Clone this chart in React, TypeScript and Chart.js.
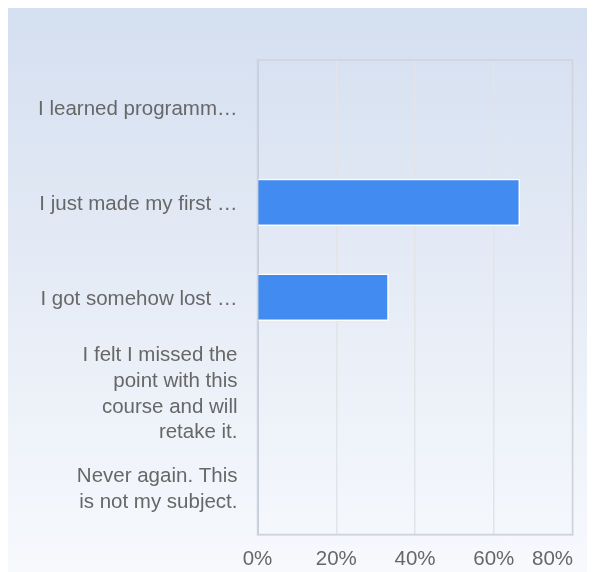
import React, { useEffect, useRef } from "react";
import { Chart, registerables } from "chart.js";

Chart.register(...registerables);

const categories: (string | string[])[] = [
  "I learned programm…",
  "I just made my first …",
  "I got somehow lost …",
  ["I felt I missed the", "point with this", "course and will", "retake it."],
  ["Never again. This", "is not my subject."],
];
const percentages: number[] = [0, 66.67, 33.33, 0, 0];
const xTickValues: number[] = [0, 20, 40, 60, 80];

const FONT = "'Liberation Sans', Arial, Helvetica, sans-serif";

const plotBorder = {
  id: "plotBorder",
  beforeDatasetsDraw(chart: any) {
    const { ctx, chartArea } = chart;
    ctx.save();
    ctx.strokeStyle = "#cfd3da";
    ctx.lineWidth = 1.5;
    ctx.strokeRect(chartArea.left, chartArea.top, chartArea.right - chartArea.left, chartArea.bottom - chartArea.top);
    ctx.restore();
  },
};

export default function App() {
  const ref = useRef<HTMLCanvasElement | null>(null);
  useEffect(() => {
    if (!ref.current) return;
    const maxTick = xTickValues[xTickValues.length - 1];
    const chart = new Chart(ref.current, {
      type: "bar",
      data: {
        labels: categories,
        datasets: [
          {
            data: percentages,
            backgroundColor: "#428bf0",
            borderColor: "#ffffff",
            borderWidth: 1.5,
            barPercentage: 0.5,
            categoryPercentage: 1,
          },
        ],
      },
      plugins: [plotBorder],
      options: {
        indexAxis: "y",
        responsive: false,
        animation: false,
        layout: { padding: { left: 0, top: 52, right: 22.5, bottom: 0 } },
        plugins: { legend: { display: false }, tooltip: { enabled: false } },
        scales: {
          x: {
            min: xTickValues[0],
            max: maxTick,
            afterBuildTicks(scale: any) {
              scale.ticks = xTickValues.map((v) => ({ value: v }));
            },
            afterFit(scale: any) {
              scale.height = 37.5;
              scale.paddingLeft = 0;
              scale.paddingRight = 0;
            },
            grid: { color: "#e2e4e8", lineWidth: 1.5, drawTicks: false },
            border: { display: true, color: "#cfd3da", width: 1.5 },
            ticks: {
              padding: 13,
              autoSkip: false,
              maxRotation: 0,
              minRotation: 0,
              color: "#676767",
              font: { family: FONT, size: 20.5 },
              callback: (v: any) => (v === maxTick ? `${v}%       ` : `${v}%`),
            },
          },
          y: {
            afterFit(scale: any) {
              scale.width = 249.5;
              scale.paddingTop = 0;
              scale.paddingBottom = 0;
            },
            grid: { display: false, drawTicks: false },
            border: { display: true, color: "#c3cbdc", width: 2 },
            ticks: {
              padding: 20,
              labelOffset: 2,
              autoSkip: false,
              color: "#676767",
              font: { family: FONT, size: 20.5, lineHeight: 1.25 },
            },
          },
        },
      },
    });
    return () => chart.destroy();
  }, []);
  return (
    <div
      style={{
        width: 587,
        height: 564,
        background: "linear-gradient(to bottom, #d4dff0 0%, #e6ecf6 50%, #f7f9fd 100%)",
      }}
    >
      <canvas ref={ref} width={587} height={564} style={{ display: "block" }} />
    </div>
  );
}
